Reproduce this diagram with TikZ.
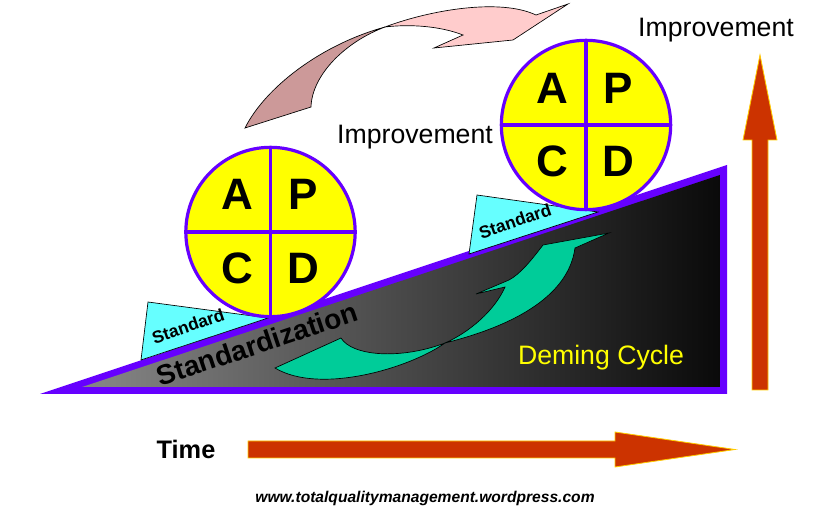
\documentclass[tikz,border=0pt]{standalone}
\usepackage{fontspec}
\setmainfont{Liberation Sans}
\definecolor{pdpurple}{RGB}{102,0,255}
\definecolor{pdyellow}{RGB}{255,255,0}
\definecolor{pdcyan}{RGB}{102,255,255}
\definecolor{pdred}{RGB}{204,51,0}
\definecolor{pdgold}{RGB}{255,204,0}
\definecolor{pdgreen}{RGB}{0,204,153}
\definecolor{pdpinkL}{RGB}{255,204,204}
\definecolor{pdpinkD}{RGB}{204,153,153}
\definecolor{pdgray}{RGB}{135,135,135}
\definecolor{pdblack}{RGB}{10,10,10}
\tikzset{
  pdcircle/.style={circle,draw=pdpurple,fill=pdyellow,line width=2.4pt,minimum size=127pt,inner sep=0pt},
  pddiv/.style={draw=pdpurple,line width=2.4pt},
  pdletter/.style={font=\fontsize{33}{33}\selectfont\bfseries,inner sep=0pt},
  pdwedge/.style={fill=pdcyan,draw=black,line width=0.5pt},
  pdstdtext/.style={font=\fontsize{13}{13}\selectfont\bfseries,rotate=19,inner sep=0pt},
  pdbigarrow/.style={fill=pdred,draw=pdgold,line width=0.6pt},
  pdlabel/.style={font=\fontsize{20}{20}\selectfont,inner sep=0pt}
}
\begin{document}
\begin{tikzpicture}[x=0.75pt,y=-0.75pt]
\useasboundingbox (0,0) rectangle (840,513);
% wedge
\fill[pdpurple] (40,394) -- (727,394) -- (727,165) -- cycle;
\shade[left color=pdgray,right color=pdblack] (82,387) -- (720,387) -- (720,175) -- cycle;
% standard wedges
\draw[pdwedge] (148,302) -- (268,318) -- (141,360) -- cycle;
\draw[pdwedge] (477,195) -- (598,212) -- (469,254) -- cycle;
\node[pdstdtext] (std1) at (188,326) {Standard};
\node[pdstdtext] (std2) at (515,221) {Standard};
% circles
\node[pdcircle] (c1) at (270.5,232) {};
\draw[pddiv] (c1.north) -- (c1.south) (c1.west) -- (c1.east);
\node[pdletter] (a1) at (237,194) {A};
\node[pdletter] (p1) at (303,194) {P};
\node[pdletter] (cc1) at (237,268) {C};
\node[pdletter] (d1) at (303,268) {D};
\node[pdcircle] (c2) at (586,125) {};
\draw[pddiv] (c2.north) -- (c2.south) (c2.west) -- (c2.east);
\node[pdletter] (a2) at (552,88) {A};
\node[pdletter] (p2) at (618,88) {P};
\node[pdletter] (cc2) at (552,161) {C};
\node[pdletter] (d2) at (618,161) {D};
% standardization
\node[font=\fontsize{21}{21}\selectfont\bfseries,rotate=18.5,inner sep=0pt] (stdz) at (257,344) {Standardization};
% green arrow
\draw[fill=pdgreen,draw=black,line width=0.5pt]
  (341,338) .. controls (352,356) and (400,360) .. (445,343)
  .. controls (410,368) and (320,395) .. (275,368) -- cycle;
\draw[fill=pdgreen,draw=black,line width=0.5pt]
  (445,343) .. controls (505,328) and (568,300) .. (575,248)
  -- (609,233) -- (543,245)
  .. controls (530,262) and (520,274) .. (509,280)
  -- (476,294) -- (505,287)
  .. controls (495,310) and (470,332) .. (445,343) -- cycle;
% pink arrow
\draw[fill=pdpinkD,draw=black,line width=0.5pt]
  (245,128) .. controls (265,88) and (320,45) .. (385,27)
  .. controls (345,42) and (312,75) .. (311,107) -- cycle;
\draw[fill=pdpinkL,draw=black,line width=0.5pt]
  (385,27) .. controls (430,10) and (500,-2) .. (536,15)
  -- (568,4) -- (513,40) -- (434,48) -- (463,35)
  .. controls (440,26) and (410,24) .. (385,27) -- cycle;
% texts
\node[pdlabel] (imp1) at (415,137) {Improvement};
\node[pdlabel] (imp2) at (716,30) {Improvement};
\node[pdlabel,text=pdyellow] (deming) at (601,358) {Deming Cycle};
\node[font=\fontsize{19}{19}\selectfont\bfseries,inner sep=0pt] (time) at (186,449) {Time};
\node[font=\fontsize{11.7}{12}\selectfont\bfseries\itshape,inner sep=0pt] (url) at (425,498) {www.totalqualitymanagement.wordpress.com};
% big arrows
\draw[pdbigarrow] (752,390) -- (768,390) -- (768,140) -- (777,140) -- (760,55) -- (743,140) -- (752,140) -- cycle;
\draw[pdbigarrow] (248,441) -- (615,441) -- (615,432) -- (735,449.5) -- (615,467) -- (615,458) -- (248,458) -- cycle;
\end{tikzpicture}
\end{document}
